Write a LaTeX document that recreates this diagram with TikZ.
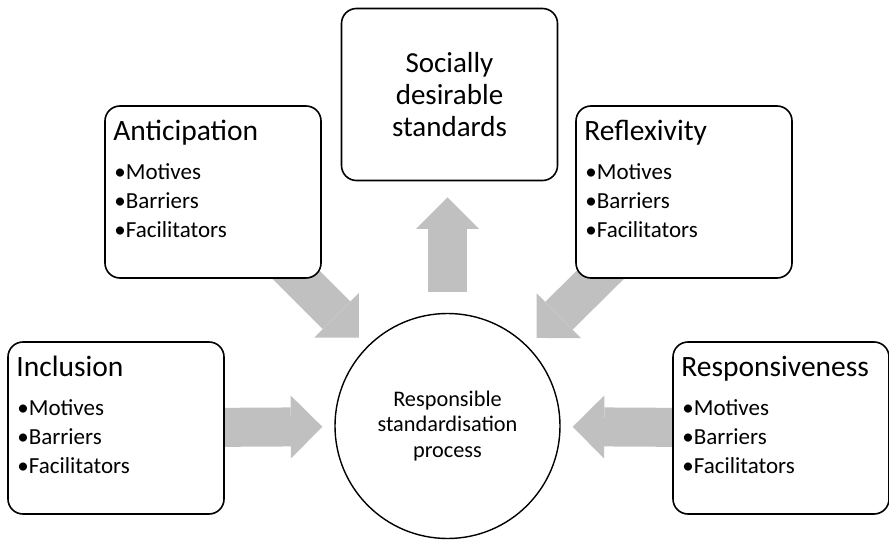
\documentclass[tikz,border=0pt]{standalone}
\usepackage{fontspec}
\setmainfont{Carlito}
\usetikzlibrary{arrows.meta,backgrounds,positioning}

\definecolor{flowgray}{HTML}{C0C0C0}

\begin{document}
\begin{tikzpicture}[x=1pt,y=-1pt]
	\tikzstyle{Box}		= [draw, line width=1.6pt, rounded corners=15pt, fill=white, minimum width=216pt, minimum height=172pt, inner sep=0pt]
	\tikzstyle{Title}	= [font=\fontsize{29.5}{33}\selectfont, inner sep=0pt, anchor=base west]
	\tikzstyle{Item}	= [font=\fontsize{23}{27}\selectfont, inner sep=0pt, anchor=base west]
	\tikzstyle{Hub}		= [circle, draw, line width=1.4pt, fill=white, minimum size=225pt, inner sep=0pt, align=center, font=\fontsize{22.3}{25.5}\selectfont]
	\tikzstyle{Flow}	= [line width=39pt, flowgray, -{Triangle[width=63pt, length=31.5pt, line width=0pt]}]

	\useasboundingbox (0,0) rectangle (889,540);

	\node (incl) at (116, 428) [Box] {};
	\node (antic) at (213, 192) [Box] {};
	\node (soc) at (449.5, 94.5) [Box][align=center, font=\fontsize{29}{31.7}\selectfont] {Socially\\desirable\\standards};
	\node (refl) at (684, 192) [Box] {};
	\node (resp) at (781, 428) [Box] {};
	\node (hub) at (447.5, 426) [Hub] {Responsible\\standardisation\\process};

	\foreach \b/\t in {incl/Inclusion, antic/Anticipation, refl/Reflexivity, resp/Responsiveness} {
		\node (\b-title) at ([shift={(9,35)}]\b.north west) [Title] {\t};
		\node (\b-mot) at ([shift={(10,74)}]\b.north west) [Item] {•Motives};
		\node (\b-bar) at ([shift={(10,103)}]\b.north west) [Item] {•Barriers};
		\node (\b-fac) at ([shift={(10,132)}]\b.north west) [Item] {•Facilitators};
	}

	\begin{pgfonlayer}{background}
		\draw [Flow, shorten >=12pt] (incl.center) to (hub);
		\draw [Flow, shorten >=12pt] (antic.center) to (hub);
		\draw [Flow, shorten >=12pt] (refl.center) to (hub);
		\draw [Flow, shorten >=12pt] (resp.center) to (hub);
		\draw [Flow, shorten <=21pt, shorten >=16pt] (hub.north) to (hub.north |- soc.south);
	\end{pgfonlayer}
\end{tikzpicture}
\end{document}
